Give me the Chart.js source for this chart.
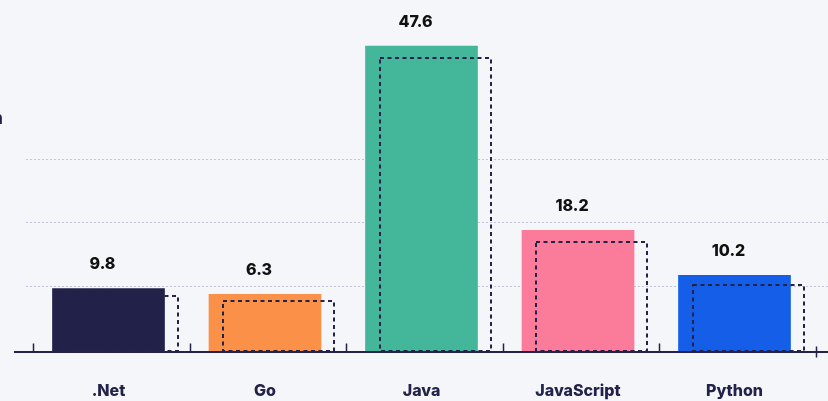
<!DOCTYPE html>
<html>
<head>
<meta charset="utf-8">
<script src="https://cdn.jsdelivr.net/npm/chart.js@4.4.0/dist/chart.umd.min.js"></script>
<style>
  html, body { margin: 0; padding: 0; background: #f5f6fa; }
  .wrap { position: relative; width: 828px; height: 401px; overflow: hidden; }
  .cut { position: absolute; left: -8px; top: 108px; font: 800 17px Inter, sans-serif; color: #22224a; }
</style>
</head>
<body>
<div class="wrap">
  <span class="cut">n</span>
  <canvas id="diagramBahasa" width="828" height="401"></canvas>
</div>
<script>
const kategori = [".Net", "Go", "Java", "JavaScript", "Python"];
const nilaiSekarang = [9.6, 8.7, 47.9, 18.8, 11.7];
const nilaiSebelum = [8.6, 7.7, 46.2, 17.1, 10.3];
const labelNilai = ["9.8", "6.3", "47.6", "18.2", "10.2"];
const garisGrid = [10, 20, 30];
const warnaBatang = ["#22214a", "#fb9148", "#44b79a", "#fb7b9b", "#155fe8"];

const navy = "#22224a";

const pluginGaris = {
  id: "pluginGaris",
  beforeDatasetsDraw(chart) {
    const ctx = chart.ctx;
    const sumbuY = chart.scales.y;
    ctx.save();
    ctx.strokeStyle = "#c4c5db";
    ctx.lineWidth = 1;
    ctx.setLineDash([2, 2]);
    garisGrid.forEach((v) => {
      const y = Math.round(sumbuY.getPixelForValue(v)) + 0.5;
      ctx.beginPath();
      ctx.moveTo(26, y);
      ctx.lineTo(chart.width, y);
      ctx.stroke();
    });
    ctx.restore();
  },
  afterDatasetsDraw(chart) {
    const ctx = chart.ctx;
    const sumbuX = chart.scales.x;
    const dasar = chart.chartArea.bottom;

    // garis putus-putus untuk nilai sebelumnya
    const metaLama = chart.getDatasetMeta(1);
    ctx.save();
    ctx.strokeStyle = navy;
    ctx.lineWidth = 2;
    ctx.setLineDash([4, 3.5]);
    metaLama.data.forEach((bar) => {
      const kiri = Math.round(bar.x - bar.width / 2 + 13.5) + 1;
      const lebar = Math.round(bar.width) - 2;
      const atas = Math.round(bar.y) + 1;
      ctx.strokeRect(kiri, atas, lebar, Math.round(bar.base) - 1 - atas);
    });
    ctx.restore();

    // garis sumbu dan tick
    ctx.save();
    ctx.strokeStyle = navy;
    ctx.lineWidth = 2;
    ctx.beginPath();
    ctx.moveTo(14, Math.round(dasar));
    ctx.lineTo(chart.width, Math.round(dasar));
    ctx.stroke();
    ctx.lineWidth = 1.5;
    for (let i = 0; i <= kategori.length; i++) {
      const x = Math.round(sumbuX.getPixelForValue(i - 0.5)) + 3.5;
      const akhir = i === kategori.length;
      ctx.beginPath();
      ctx.moveTo(x, dasar - (akhir ? 5 : 8));
      ctx.lineTo(x, dasar + (akhir ? 6 : 0));
      ctx.stroke();
    }
    ctx.restore();

    // label nilai
    const metaBaru = chart.getDatasetMeta(0);
    ctx.save();
    ctx.fillStyle = "#111111";
    ctx.font = "800 16px Inter, sans-serif";
    ctx.textAlign = "center";
    ctx.textBaseline = "middle";
    metaBaru.data.forEach((bar, i) => {
      ctx.fillText(labelNilai[i], bar.x - 6, bar.y - 24);
    });
    ctx.restore();
  },
};

const diagram = document.getElementById("diagramBahasa").getContext("2d");

let diagramBahasa = new Chart(diagram, {
  type: "bar",
  data: {
    labels: kategori,
    datasets: [
      {
        data: nilaiSekarang,
        backgroundColor: warnaBatang,
        base: -0.4,
        grouped: false,
        categoryPercentage: 1,
        barPercentage: 0.72,
        order: 1,
      },
      {
        data: nilaiSebelum,
        backgroundColor: "rgba(0,0,0,0)",
        base: -0.4,
        grouped: false,
        categoryPercentage: 1,
        barPercentage: 0.72,
        order: 2,
      },
    ],
  },
  options: {
    responsive: false,
    animation: false,
    layout: {
      padding: { top: 32.5, left: 30.25, right: 15.25, bottom: 0 },
    },
    plugins: {
      legend: { display: false },
      tooltip: { enabled: false },
    },
    scales: {
      x: {
        grid: { display: false, drawTicks: false },
        border: { display: false },
        afterFit: (scale) => {
          scale.height = 49.5;
        },
        ticks: {
          color: navy,
          padding: 30,
          font: { family: "Inter", weight: "800", size: 16 },
        },
      },
      y: {
        display: false,
        min: -0.4,
        max: 50,
      },
    },
  },
  plugins: [pluginGaris],
});
</script>
</body>
</html>
